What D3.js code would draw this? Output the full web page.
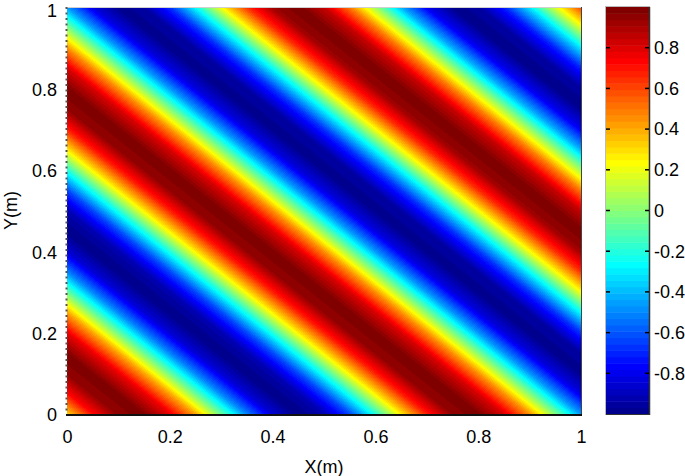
<!DOCTYPE html>
<html>
<head>
<meta charset="utf-8">
<script src="https://cdn.jsdelivr.net/npm/d3@7"></script>
<style>
  body { margin: 0; background: #fff; }
  text { font-family: "Liberation Sans", Arial, sans-serif; font-size: 18px; fill: #000; }
</style>
</head>
<body>
<svg width="685" height="476"></svg>
<script>
// field value read along the diagonal s = x + y (stripes run along x + y = const)
var sSamples = d3.range(0, 2.0001, 0.05).map(d => +d.toFixed(2));
var fieldValues = [0.32, 0.72, 0.96, 0.98, 0.78, 0.41, -0.06, -0.51, -0.85, -1.00,
                   -0.92, -0.63, -0.20, 0.27, 0.68, 0.95, 0.99, 0.81, 0.45, -0.01,
                   -0.47, -0.83, -0.99, -0.94, -0.67, -0.25, 0.23, 0.65, 0.93, 1.00,
                   0.84, 0.49, 0.04, -0.43, -0.80, -0.99, -0.95, -0.70, -0.30, 0.18, 0.61];
var xTicks = [0, 0.2, 0.4, 0.6, 0.8, 1];
var yTicks = [0, 0.2, 0.4, 0.6, 0.8, 1];
var cbTicks = [-0.8, -0.6, -0.4, -0.2, 0, 0.2, 0.4, 0.6, 0.8];
var colorLimits = [-1, 1];

// matlab jet(m)
function jet(m) {
    var n = Math.ceil(m / 4);
    var u = [];
    for (var i = 1; i <= n; i++) u.push(i / n);
    for (var i = 1; i < n; i++) u.push(1);
    for (var i = n; i >= 1; i--) u.push(i / n);
    var g0 = Math.ceil(n / 2) - (m % 4 == 1 ? 1 : 0);
    var r = new Array(m).fill(0), g = new Array(m).fill(0), b = new Array(m).fill(0);
    u.forEach(function(v, k) {
        var gi = g0 + k + 1, ri = gi + n, bi = gi - n;
        if (gi >= 1 && gi <= m) g[gi - 1] = v;
        if (ri >= 1 && ri <= m) r[ri - 1] = v;
        if (bi >= 1 && bi <= m) b[bi - 1] = v;
    });
    return d3.range(m).map(i => d3.rgb(r[i] * 255, g[i] * 255, b[i] * 255));
}

var jetColors = jet(64);
var plot = {left: 67, right: 581, top: 7, bottom: 414};
var cbar = {left: 606, right: 649};

var svg = d3.select("svg");
var xScale = d3.scaleLinear().domain([0, 1]).range([plot.left, plot.right]);
var yScale = d3.scaleLinear().domain([0, 1]).range([plot.bottom, plot.top]);
var profile = d3.scaleLinear().domain(sSamples).range(fieldValues).clamp(true);
var colorScale = d3.scaleQuantize().domain(colorLimits).range(jetColors);

// heatmap drawn pixel by pixel on a canvas, then put in the svg
var w = plot.right - plot.left, h = plot.bottom - plot.top;
var canvas = document.createElement("canvas");
canvas.width = w; canvas.height = h;
var ctx = canvas.getContext("2d");
var img = ctx.createImageData(w, h);
for (var py = 0; py < h; py++) {
    var yv = yScale.invert(plot.top + py + 0.5);
    for (var px = 0; px < w; px++) {
        var xv = xScale.invert(plot.left + px + 0.5);
        var c = colorScale(profile(xv + yv));
        var k = (py * w + px) * 4;
        img.data[k] = c.r; img.data[k + 1] = c.g; img.data[k + 2] = c.b; img.data[k + 3] = 255;
    }
}
ctx.putImageData(img, 0, 0);
svg.append("image")
    .attr("x", plot.left).attr("y", plot.top)
    .attr("width", w).attr("height", h)
    .attr("preserveAspectRatio", "none")
    .attr("href", canvas.toDataURL());

// frame of the axes
svg.append("line").attr("x1", plot.left).attr("x2", plot.right).attr("y1", plot.top + 0.5).attr("y2", plot.top + 0.5)
    .attr("stroke", "#d0d0d0");
svg.append("line").attr("x1", plot.right + 0.5).attr("x2", plot.right + 0.5).attr("y1", plot.top).attr("y2", plot.bottom)
    .attr("stroke", "#444");
svg.append("line").attr("x1", plot.left - 1).attr("x2", plot.right + 1).attr("y1", plot.bottom + 1).attr("y2", plot.bottom + 1)
    .attr("stroke", "#111").attr("stroke-width", 2);
svg.append("line").attr("x1", plot.left - 0.5).attr("x2", plot.left - 0.5).attr("y1", plot.top).attr("y2", plot.bottom)
    .attr("stroke", "#555").attr("stroke-width", 2).attr("stroke-dasharray", "2,3.5");

// axes labels
var xAxis = d3.axisBottom(xScale).tickValues(xTicks).tickSize(0).tickPadding(16).tickFormat(d => String(d));
var gx = svg.append("g").attr("transform", "translate(0," + plot.bottom + ")").call(xAxis);
var yAxis = d3.axisLeft(yScale).tickValues(yTicks).tickSize(0).tickPadding(10).tickFormat(d => String(d));
var gy = svg.append("g").attr("transform", "translate(" + plot.left + ",0)").call(yAxis);
[gx, gy].forEach(function(g) {
    g.select(".domain").remove();
    g.selectAll("text").attr("fill", "#000").style("font-size", "18px").attr("font-family", null);
});
// top label sits a little lower, like matlab keeps it inside the figure
gy.selectAll("text").attr("dy", d => d === 1 ? "0.5em" : "0.38em");
svg.append("text").attr("x", (plot.left + plot.right) / 2).attr("y", 473)
    .attr("text-anchor", "middle").text("X(m)");
svg.append("text").attr("transform", "translate(17," + ((plot.top + plot.bottom) / 2) + ") rotate(-90)")
    .attr("text-anchor", "middle").text("Y(m)");

// colorbar
var cbScale = d3.scaleLinear().domain(colorLimits).range([plot.bottom, plot.top]);
var step = (colorLimits[1] - colorLimits[0]) / jetColors.length;
svg.append("g").selectAll("rect")
    .data(jetColors)
    .join("rect")
    .attr("x", cbar.left)
    .attr("width", cbar.right - cbar.left)
    .attr("y", (d, i) => cbScale(colorLimits[0] + (i + 1) * step))
    .attr("height", (d, i) => cbScale(colorLimits[0] + i * step) - cbScale(colorLimits[0] + (i + 1) * step) + 0.5)
    .attr("fill", d => d);
svg.append("rect").attr("x", cbar.left - 0.5).attr("y", plot.top - 0.5)
    .attr("width", cbar.right - cbar.left + 1).attr("height", plot.bottom - plot.top + 1)
    .attr("fill", "none").attr("stroke", "#bbb");
svg.append("line").attr("x1", cbar.right + 0.5).attr("x2", cbar.right + 0.5).attr("y1", plot.top).attr("y2", plot.bottom + 1)
    .attr("stroke", "#333").attr("stroke-width", 1.5);
svg.append("line").attr("x1", cbar.left).attr("x2", cbar.right + 1).attr("y1", plot.bottom + 0.5).attr("y2", plot.bottom + 0.5)
    .attr("stroke", "#333");

var cbTickG = svg.append("g");
cbTickG.selectAll("line.l").data(cbTicks).join("line").attr("class", "l")
    .attr("x1", cbar.left).attr("x2", cbar.left + 4)
    .attr("y1", d => cbScale(d)).attr("y2", d => cbScale(d))
    .attr("stroke", "#000").attr("stroke-width", 1.5);
cbTickG.selectAll("line.r").data(cbTicks).join("line").attr("class", "r")
    .attr("x1", cbar.right - 4).attr("x2", cbar.right)
    .attr("y1", d => cbScale(d)).attr("y2", d => cbScale(d))
    .attr("stroke", "#000").attr("stroke-width", 1.5);
cbTickG.selectAll("text").data(cbTicks).join("text")
    .attr("x", cbar.right + 5)
    .attr("y", d => cbScale(d))
    .attr("dy", "0.35em")
    .text(d => String(d));
</script>
</body>
</html>
